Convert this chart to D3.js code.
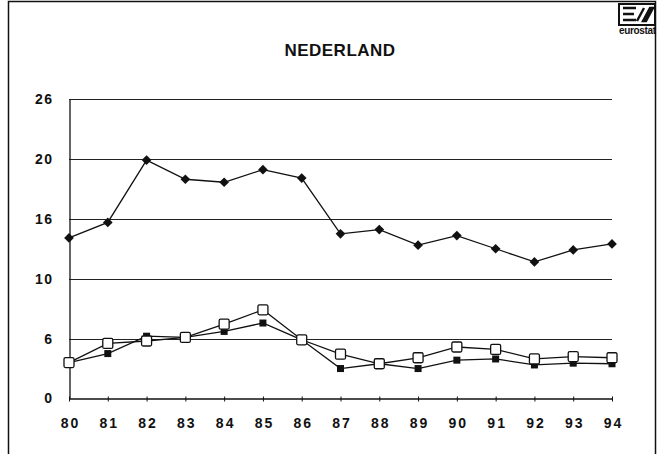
<!DOCTYPE html>
<html>
<head>
<meta charset="utf-8">
<script src="https://cdn.jsdelivr.net/npm/d3@7"></script>
<style>
  body { margin: 0; background: #fff; }
  svg { display: block; font-family: "Liberation Sans", Arial, sans-serif; }
</style>
</head>
<body>
<script>
// values
var years = [80, 81, 82, 83, 84, 85, 86, 87, 88, 89, 90, 91, 92, 93, 94];
var seriesDiamond = [13.4, 14.7, 19.9, 18.3, 18.05, 19.1, 18.4, 13.75, 14.1, 12.8, 13.6, 12.5, 11.4, 12.4, 12.9];
var seriesOpen = [3.0, 4.6, 4.8, 5.1, 6.2, 7.4, 4.9, 3.7, 2.9, 3.4, 4.3, 4.1, 3.3, 3.5, 3.4];
var seriesFilled = [3.0, 3.75, 5.2, 5.1, 5.6, 6.3, 4.9, 2.5, 2.9, 2.5, 3.2, 3.3, 2.8, 2.95, 2.9];
var yTicks = [0, 5, 10, 15, 20, 25];
var yTickLabels = ["0", "6", "10", "16", "20", "26"];
var titleText = "NEDERLAND";

var width = 662,
  height = 454;

var svg = d3.select('body')
  .append('svg')
  .attr('width', width)
  .attr('height', height);

// outer frame
svg.append('rect')
  .attr('x', 8.5).attr('y', 1.5)
  .attr('width', 647).attr('height', 460)
  .attr('fill', 'none')
  .attr('stroke', '#111')
  .attr('stroke-width', 1.5);

var xScale = d3.scaleLinear().domain([80, 94]).range([69, 612]);
var yScale = d3.scaleLinear().domain([0, 25]).range([398.5, 99]);

// title
svg.append('text')
  .attr('x', 340).attr('y', 56)
  .attr('text-anchor', 'middle')
  .style('font-size', '17px')
  .style('font-weight', 'bold')
  .style('letter-spacing', '0.5px')
  .attr('fill', '#111')
  .text(titleText);

// eurostat logo
var logo = svg.append('g').attr('transform', 'translate(618,3)');
logo.append('rect').attr('x', 1).attr('y', 1).attr('width', 36).attr('height', 21)
  .attr('fill', '#fff').attr('stroke', '#111').attr('stroke-width', 2);
logo.append('path')
  .attr('d', 'M5,5 H18 M5,11 H16 M5,17 H18 M19,18 L26,5 M25,18 L32,5 H35 L28,18 Z')
  .attr('stroke', '#111').attr('stroke-width', 2.4).attr('fill', '#111');
logo.append('text')
  .attr('x', 38).attr('y', 31)
  .attr('text-anchor', 'end')
  .attr('textLength', 37)
  .style('font-size', '10px')
  .style('font-weight', 'bold')
  .attr('fill', '#111')
  .text('eurostat');

// horizontal grid lines
svg.append('g')
  .selectAll('line')
  .data(yTicks.filter(function (d) { return d > 0; }))
  .enter()
  .append('line')
  .attr('x1', xScale(80)).attr('x2', xScale(94))
  .attr('y1', function (d) { return Math.round(yScale(d)) + 0.5; })
  .attr('y2', function (d) { return Math.round(yScale(d)) + 0.5; })
  .attr('stroke', '#222')
  .attr('stroke-width', 1.2);

// y axis
var yAxis = d3.axisLeft(yScale)
  .tickValues(yTicks)
  .tickSize(0)
  .tickPadding(16)
  .tickFormat(function (d, i) { return yTickLabels[i]; });

var gy = svg.append('g')
  .attr('transform', 'translate(69.5,0)')
  .call(yAxis);
gy.select('.domain').attr('stroke', '#111').attr('stroke-width', 1.3);
gy.selectAll('text')
  .style('font-size', '14px')
  .style('font-weight', 'bold')
  .style('letter-spacing', '1.5px')
  .attr('fill', '#111');

// x axis
var xAxis = d3.axisBottom(xScale)
  .tickValues(years)
  .tickSizeInner(3)
  .tickSizeOuter(0)
  .tickPadding(17)
  .tickFormat(d3.format('d'));

var gx = svg.append('g')
  .attr('transform', 'translate(0,398.5)')
  .call(xAxis);
gx.select('.domain').attr('stroke', '#111').attr('stroke-width', 1.3);
gx.selectAll('.tick line').attr('stroke', '#111').attr('y1', -2);
gx.selectAll('text')
  .style('font-size', '14px')
  .style('font-weight', 'bold')
  .style('letter-spacing', '2px')
  .attr('dx', '1px')
  .attr('fill', '#111');

var line = d3.line()
  .x(function (d, i) { return xScale(years[i]); })
  .y(function (d) { return yScale(d); });

function drawLine(values) {
  svg.append('path')
    .datum(values)
    .attr('d', line)
    .attr('fill', 'none')
    .attr('stroke', '#111')
    .attr('stroke-width', 1.3);
}

// diamond series
drawLine(seriesDiamond);
svg.append('g')
  .selectAll('path')
  .data(seriesDiamond)
  .enter()
  .append('path')
  .attr('d', d3.symbol().type(d3.symbolDiamond2).size(60))
  .attr('transform', function (d, i) { return 'translate(' + xScale(years[i]) + ',' + yScale(d) + ')'; })
  .attr('fill', '#111');

// filled squares
drawLine(seriesFilled);
svg.append('g')
  .selectAll('rect')
  .data(seriesFilled)
  .enter()
  .append('rect')
  .attr('x', function (d, i) { return xScale(years[i]) - 3.5; })
  .attr('y', function (d) { return yScale(d) - 3.5; })
  .attr('width', 7).attr('height', 7)
  .attr('fill', '#111');

// open squares
drawLine(seriesOpen);
svg.append('g')
  .selectAll('rect')
  .data(seriesOpen)
  .enter()
  .append('rect')
  .attr('x', function (d, i) { return xScale(years[i]) - 5; })
  .attr('y', function (d) { return yScale(d) - 5; })
  .attr('width', 10).attr('height', 10)
  .attr('rx', 1.5)
  .attr('fill', '#fff')
  .attr('stroke', '#111')
  .attr('stroke-width', 1.3);
</script>
</body>
</html>
